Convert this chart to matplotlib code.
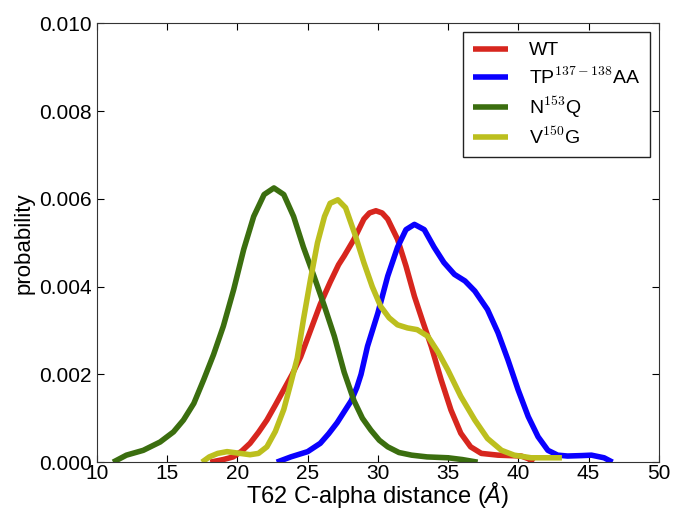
import matplotlib
matplotlib.use("Agg")
import matplotlib.pyplot as plt

# Values (x in Angstrom, y = probability)
wt_x = [18.07, 19.0, 19.7, 20.3, 20.9, 21.5, 22.1, 22.7, 23.3, 23.9, 24.5, 25.2, 25.9, 26.6,
        27.2, 27.6, 28.3, 29.0, 29.4, 29.86, 30.3, 30.7, 31.4, 32.0, 32.6, 33.2, 33.8, 34.5,
        35.2, 35.9, 36.6, 37.36, 38.55, 40.2, 40.7, 41.1]
wt_y = [0.0, 0.00006, 0.00012, 0.00025, 0.00043, 0.00068, 0.00096, 0.0013, 0.00165, 0.002,
        0.0024, 0.0030, 0.0036, 0.0041, 0.0045, 0.0047, 0.00508, 0.00554, 0.00568, 0.00573,
        0.00568, 0.00554, 0.00508, 0.00447, 0.00378, 0.0032, 0.00264, 0.00188, 0.00119,
        0.00066, 0.00035, 0.0002, 0.00016, 0.00014, 0.00008, 0.0]

tp_x = [22.8, 23.8, 25.0, 25.9, 26.5, 27.1, 27.6, 28.1, 28.5, 28.8, 29.26, 30.0, 30.7, 31.4,
        32.0, 32.6, 33.3, 34.0, 34.7, 35.45, 36.2, 36.9, 37.8, 38.55, 39.26, 39.98, 40.7,
        41.4, 42.1, 42.8, 43.5, 44.5, 45.2, 46.1, 46.7]
tp_y = [0.0, 0.00012, 0.00024, 0.00043, 0.00065, 0.0009, 0.00115, 0.0014, 0.0017, 0.0020,
        0.00264, 0.0034, 0.00424, 0.0049, 0.0053, 0.00542, 0.0053, 0.0049, 0.00455, 0.00428,
        0.00413, 0.0039, 0.00348, 0.00295, 0.00233, 0.00165, 0.00104, 0.00058, 0.00027,
        0.00016, 0.00014, 0.00015, 0.00016, 0.0001, 0.0]

nq_x = [11.15, 12.1, 13.3, 14.5, 15.45, 16.16, 16.9, 17.6, 18.3, 19.0, 19.74, 20.45, 21.16,
        21.9, 22.6, 23.3, 24.0, 24.7, 25.45, 26.2, 26.9, 27.6, 28.3, 28.9, 29.5, 30.1, 30.7,
        31.5, 32.4, 33.5, 35.0, 36.0, 37.1]
nq_y = [0.0, 0.00016, 0.00027, 0.00046, 0.00069, 0.00096, 0.00134, 0.00188, 0.00245, 0.0031,
        0.00394, 0.00485, 0.0056, 0.0061, 0.00625, 0.0061, 0.0056, 0.0049, 0.00424, 0.00355,
        0.00287, 0.00205, 0.0014, 0.001, 0.00073, 0.0005, 0.00035, 0.00022, 0.00016, 0.00012,
        0.0001, 0.00006, 0.0]

vg_x = [17.48, 18.0, 18.6, 19.26, 20.2, 20.9, 21.5, 22.1, 22.7, 23.3, 23.8, 24.26, 24.7, 25.2,
        25.7, 26.2, 26.6, 27.15, 27.7, 28.4, 29.0, 29.6, 30.2, 30.8, 31.4, 32.1, 32.8, 33.55,
        34.3, 34.98, 35.9, 36.9, 37.8, 38.8, 39.7, 40.9, 42.0, 43.1]
vg_y = [0.0, 0.00012, 0.0002, 0.00024, 0.0002, 0.00017, 0.0002, 0.00035, 0.0007, 0.0012,
        0.0018, 0.00237, 0.00325, 0.00416, 0.005, 0.0056, 0.0059, 0.00598, 0.0058, 0.00516,
        0.00455, 0.004, 0.00355, 0.00329, 0.00313, 0.00306, 0.00302, 0.00287, 0.0025, 0.0021,
        0.0015, 0.00096, 0.00054, 0.00027, 0.00016, 0.0001, 0.0001, 0.0001]

labels = ["WT", "TP$^{137-138}$AA", "N$^{153}$Q", "V$^{150}$G"]
colors = ["#d7261e", "#0a00ff", "#3b6e0f", "#bcbf1e"]

plt.rcParams["font.family"] = ["Liberation Sans", "DejaVu Sans"]
plt.rcParams["mathtext.fontset"] = "cm"
# custom math font, used only for the italic Angstrom sign in the x label
plt.rcParams["mathtext.rm"] = "Liberation Sans"
plt.rcParams["mathtext.it"] = "Liberation Sans:italic"

fig = plt.figure(figsize=(6.73, 5.09), dpi=100)
ax = fig.add_axes([0.144, 0.092, 0.835, 0.862])

series = [(wt_x, wt_y), (tp_x, tp_y), (nq_x, nq_y), (vg_x, vg_y)]
for (xs, ys), lab, col in zip(series, labels, colors):
    ax.plot(xs, ys, color=col, lw=4, label=lab, solid_joinstyle="round",
            solid_capstyle="butt")

ax.set_xlim(10, 50)
ax.set_ylim(0, 0.010)
ax.set_xticks(range(10, 51, 5))
ax.set_yticks([0.0, 0.002, 0.004, 0.006, 0.008, 0.010])
ax.set_yticklabels(["0.000", "0.002", "0.004", "0.006", "0.008", "0.010"])
ax.tick_params(direction="in", top=True, right=True, labelsize=15, length=5)
ax.tick_params(axis="x", pad=1.5)
ax.tick_params(axis="y", pad=3.5)
for sp in ax.spines.values():
    sp.set_color("#333333")

ax.set_xlabel("T62 C-alpha distance ($\\mathit{Å}$)", fontsize=17, labelpad=-2.5,
              math_fontfamily="custom")
ax.set_ylabel("probability", fontsize=16, labelpad=3.5)

leg = ax.legend(loc="upper right", fontsize=14, fancybox=False, framealpha=1,
                handlelength=1.8, handletextpad=1.1, labelspacing=0.35,
                borderpad=0.5, borderaxespad=0.45, bbox_to_anchor=(1.0, 1.0))
leg.get_frame().set_edgecolor("#222222")

fig.savefig("out.png", dpi=100, facecolor="white")
